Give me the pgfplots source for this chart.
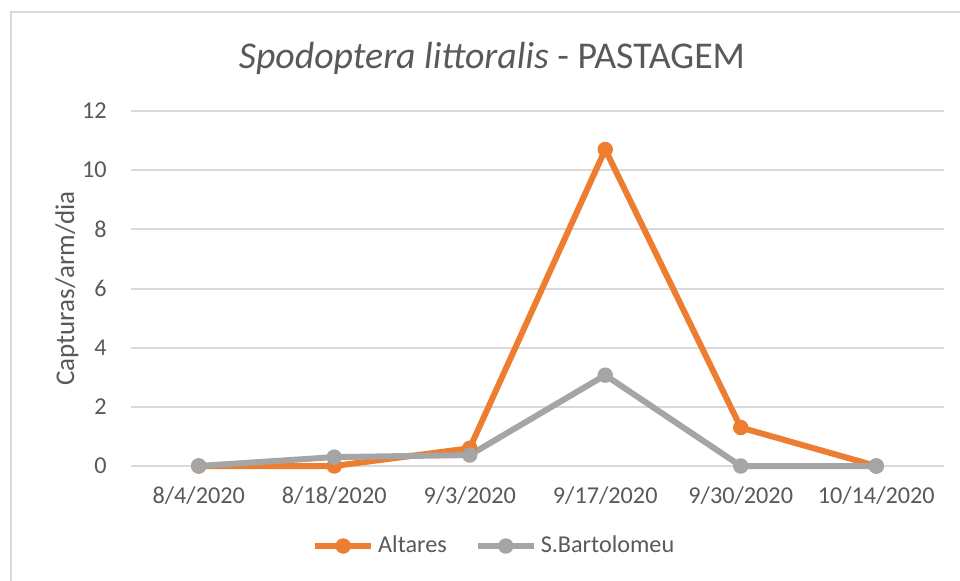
\documentclass[border=0pt]{standalone}
\usepackage{fontspec}
\setmainfont{Carlito}
\usepackage{pgfplots}
\pgfplotsset{compat=1.18}
\definecolor{orangeA}{HTML}{ED7D31}
\definecolor{grayB}{HTML}{A5A5A5}
\definecolor{gridc}{HTML}{D9D9D9}
\definecolor{txt}{HTML}{595959}
\begin{document}
\begin{tikzpicture}
\useasboundingbox (0,0) rectangle (480pt,290pt);
\begin{scope}
\clip (0,0) rectangle (480pt,290pt);
\fill[white] (0,0) rectangle (480pt,290pt);
\draw[gridc, line width=1pt] (5.5pt,-10pt) rectangle (495pt,284pt);
\end{scope}
\begin{axis}[
  at={(65.5pt,57pt)}, anchor=south west,
  scale only axis, width=406.5pt, height=177.5pt,
  xmin=-0.5, xmax=5.5, ymin=0, ymax=12,
  xtick={0,...,5},
  xticklabels={8/4/2020,8/18/2020,9/3/2020,9/17/2020,9/30/2020,10/14/2020},
  ytick={0,2,...,12},
  ymajorgrids, grid style={gridc, line width=1pt},
  axis line style={draw=none},
  major tick length=0pt,
  clip=false,
  /pgf/number format/assume math mode=true,
  tick label style={font=\fontsize{12.1pt}{14pt}\selectfont, text=txt},
  xticklabel style={anchor=center, inner sep=0pt, yshift=-15pt},
  yticklabel style={anchor=east, inner sep=0pt, xshift=-12pt},
  ylabel={Capturas/arm/dia},
  ylabel style={at={(axis description cs:-0.0787,0.5)}, anchor=center, font=\fontsize{13.5pt}{16pt}\selectfont, text=txt},
  legend style={at={(0.448,-0.2254)}, anchor=center, draw=none, fill=none,
    legend columns=2, font=\fontsize{12.1pt}{14pt}\selectfont, text=txt,
    /tikz/every even column/.append style={column sep=12pt},
    inner sep=0pt},
  legend image code/.code={\draw[mark repeat=2,mark phase=2,#1] plot coordinates {(0pt,0pt) (14pt,0pt) (28pt,0pt)};},
]
\addplot[orangeA, line width=3pt, mark=*, mark size=3.6pt, mark options={solid, fill=orangeA, draw=orangeA, line width=0.5pt}]
  coordinates {(0,0) (1,0) (2,0.6) (3,10.7) (4,1.3) (5,0)};
\addlegendentry{Altares}
\addplot[grayB, line width=3pt, mark=*, mark size=3.6pt, mark options={solid, fill=grayB, draw=grayB, line width=0.5pt}]
  coordinates {(0,0) (1,0.3) (2,0.37) (3,3.07) (4,0) (5,0)};
\addlegendentry{S.Bartolomeu}
\node[font=\fontsize{18.9pt}{22pt}\selectfont, text=txt] at (axis description cs:0.444,1.149) {\textit{Spodoptera littoralis} - PASTAGEM};
\end{axis}
\end{tikzpicture}
\end{document}
